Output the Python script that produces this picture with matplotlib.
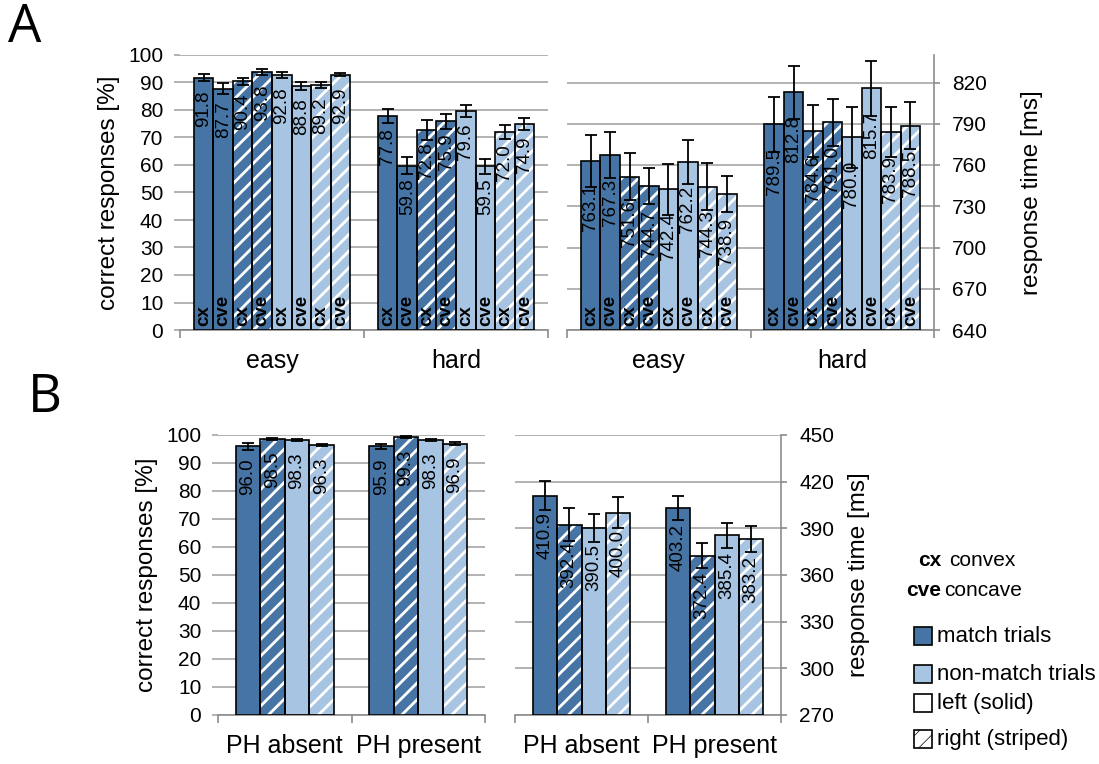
import numpy as np
import matplotlib.pyplot as plt
from matplotlib.patches import Rectangle

plt.rcParams['font.family'] = ['Liberation Sans', 'DejaVu Sans']
plt.rcParams['hatch.linewidth'] = 2.0

dark = '#4674a4'
light = '#a7c4e2'
grid_col = '#a6a6a6'
spine_col = '#8c8c8c'

# order: match-left cx/cve, match-right cx/cve, nonmatch-left cx/cve, nonmatch-right cx/cve
a_groups = ['easy', 'hard']
a_shapes = ['cx', 'cve', 'cx', 'cve', 'cx', 'cve', 'cx', 'cve']
a_colors = [dark, dark, dark, dark, light, light, light, light]
a_striped = [False, False, True, True, False, False, True, True]

a_acc = [[91.8, 87.7, 90.4, 93.8, 92.8, 88.8, 89.2, 92.9],
         [77.8, 59.8, 72.8, 75.9, 79.6, 59.5, 72.0, 74.9]]
a_acc_err = [[1.3, 2.0, 1.4, 1.2, 1.0, 1.5, 1.1, 0.7],
             [2.6, 3.2, 3.7, 2.8, 2.1, 2.8, 2.4, 2.2]]
a_rt = [[763.1, 767.3, 751.6, 744.7, 742.4, 762.2, 744.3, 738.9],
        [789.5, 812.8, 784.6, 791.0, 780.0, 815.7, 783.9, 788.5]]
a_rt_err = [[19, 16.5, 17, 13, 18.5, 16.3, 17, 12.8],
            [20, 19, 19, 17, 22, 20, 18, 17]]

# order: match-left, match-right, nonmatch-left, nonmatch-right
b_groups = ['PH absent', 'PH present']
b_colors = [dark, dark, light, light]
b_striped = [False, True, False, True]
b_acc = [[96.0, 98.5, 98.3, 96.3],
         [95.9, 99.3, 98.3, 96.9]]
b_acc_err = [[1.3, 0.3, 0.3, 0.4],
             [0.9, 0.2, 0.3, 0.5]]
b_rt = [[410.9, 392.4, 390.5, 400.0],
        [403.2, 372.4, 385.4, 383.2]]
b_rt_err = [[9.4, 10.4, 9.0, 10.0],
            [7.6, 8.0, 8.0, 8.2]]


def panel(ax, groups, vals, errs, colors, striped, width, ylim, yticks,
          side='left', shapes=None, lab_off=9):
    n = len(colors)
    for i in range(len(groups)):
        xs = i + (np.arange(n) - (n - 1) / 2) * width
        v = np.array(vals[i])
        ax.bar(xs, v - ylim[0], width, bottom=ylim[0], color=colors,
               edgecolor='none', linewidth=0, zorder=2)
        for x, val, st in zip(xs, v, striped):
            if st:
                ax.bar(x, val - ylim[0], width, bottom=ylim[0], color='none',
                       edgecolor='white', hatch='//', linewidth=0, zorder=3)
        ax.bar(xs, v - ylim[0], width, bottom=ylim[0], color='none',
               edgecolor='black', linewidth=1.2, zorder=4)
        ax.errorbar(xs, v, yerr=errs[i], fmt='none', ecolor='black',
                    elinewidth=1.3, capsize=4.5, capthick=1.3, zorder=5)
        for x, val in zip(xs, v):
            ax.annotate(f'{val:.1f}', xy=(x, val), xytext=(0, -lab_off),
                        textcoords='offset points', rotation=90,
                        ha='center', va='top', fontsize=13.5, zorder=6)
        if shapes:
            for x, s in zip(xs, shapes):
                ax.annotate(s, xy=(x, ylim[0]), xytext=(0, 3),
                            textcoords='offset points', rotation=90,
                            ha='center', va='bottom', fontsize=13.5,
                            fontweight='bold', zorder=6)
    ax.set_xlim(-0.5, len(groups) - 0.5)
    ax.set_ylim(*ylim)
    ax.set_yticks(yticks)
    ax.grid(axis='y', color=grid_col, linewidth=1.2, zorder=0)
    ax.set_axisbelow(True)
    ax.set_xticks(range(len(groups)))
    ax.set_xticklabels(groups, fontsize=18)
    ax.set_xticks(np.arange(len(groups) + 1) - 0.5, minor=True)
    ax.tick_params(axis='x', which='major', length=0, pad=14)
    ax.tick_params(axis='x', which='minor', length=6, color=spine_col, width=1.2)
    ax.tick_params(axis='y', labelsize=15, length=4, color=grid_col, width=1.2, pad=8)
    for s in ['top', 'left', 'right']:
        ax.spines[s].set_visible(False)
    ax.spines['bottom'].set_color(spine_col)
    ax.spines['bottom'].set_linewidth(1.2)
    if side == 'right':
        ax.yaxis.tick_right()
        ax.spines['right'].set_visible(True)
        ax.spines['right'].set_color(spine_col)
        ax.spines['right'].set_linewidth(1.2)
        ax.tick_params(axis='y', color=spine_col, pad=9)


fig = plt.figure(figsize=(10.99, 7.64), dpi=100)
W, H = 1099, 764


def add_ax(x0, x1, y0, y1):
    return fig.add_axes([x0 / W, 1 - y1 / H, (x1 - x0) / W, (y1 - y0) / H])


ax1 = add_ax(180, 548, 55, 330)
panel(ax1, a_groups, a_acc, a_acc_err, a_colors, a_striped, 0.106,
      (0, 100), range(0, 101, 10), shapes=a_shapes, lab_off=9)
ax1.set_ylabel('correct responses [%]', fontsize=17.5, labelpad=6)

ax2 = add_ax(567, 934, 55, 330)
panel(ax2, a_groups, a_rt, a_rt_err, a_colors, a_striped, 0.106,
      (640, 840), range(640, 821, 30), side='right', shapes=a_shapes, lab_off=17)
ax2.set_ylabel('response time [ms]', fontsize=17.5, labelpad=24)
ax2.yaxis.set_label_position('right')

ax3 = add_ax(218, 485, 435, 715)
panel(ax3, b_groups, b_acc, b_acc_err, b_colors, b_striped, 0.184,
      (0, 100), range(0, 101, 10), lab_off=9)
ax3.set_ylabel('correct responses [%]', fontsize=17.5, labelpad=6)

ax4 = add_ax(515, 781, 435, 715)
panel(ax4, b_groups, b_rt, b_rt_err, b_colors, b_striped, 0.184,
      (270, 450), range(270, 451, 30), side='right', lab_off=12)
ax4.set_ylabel('response time [ms]', fontsize=17.5, labelpad=10)
ax4.yaxis.set_label_position('right')

fig.text(8 / W, 1 - 28 / H, 'A', fontsize=38, family='Open Sans', va='center')
fig.text(28 / W, 1 - 398 / H, 'B', fontsize=38, family='Open Sans', va='center')

# legend
fig.text(941 / W, 1 - 560 / H, 'cx', fontsize=15, fontweight='bold', ha='right', va='center')
fig.text(949 / W, 1 - 560 / H, 'convex', fontsize=15, ha='left', va='center')
fig.text(941 / W, 1 - 590 / H, 'cve', fontsize=15, fontweight='bold', ha='right', va='center')
fig.text(944 / W, 1 - 590 / H, 'concave', fontsize=15, ha='left', va='center')

plt.rcParams['hatch.linewidth'] = 0.5
leg_labels = ['match trials', 'non-match trials', 'left (solid)', 'right (striped)']
leg_faces = [dark, light, 'white', 'white']
leg_hatch = [None, None, None, '//']
leg_y = [636, 674, 703, 739]
for lab, fc, ht, y in zip(leg_labels, leg_faces, leg_hatch, leg_y):
    r = Rectangle((914 / W, 1 - (y + 9) / H), 18 / W, 18 / H, transform=fig.transFigure,
                  facecolor=fc, edgecolor='black', linewidth=1.2, hatch=ht, figure=fig)
    fig.patches.append(r)
    fig.text(937 / W, 1 - y / H, lab, fontsize=16, ha='left', va='center')

fig.savefig('out.png', dpi=100)
